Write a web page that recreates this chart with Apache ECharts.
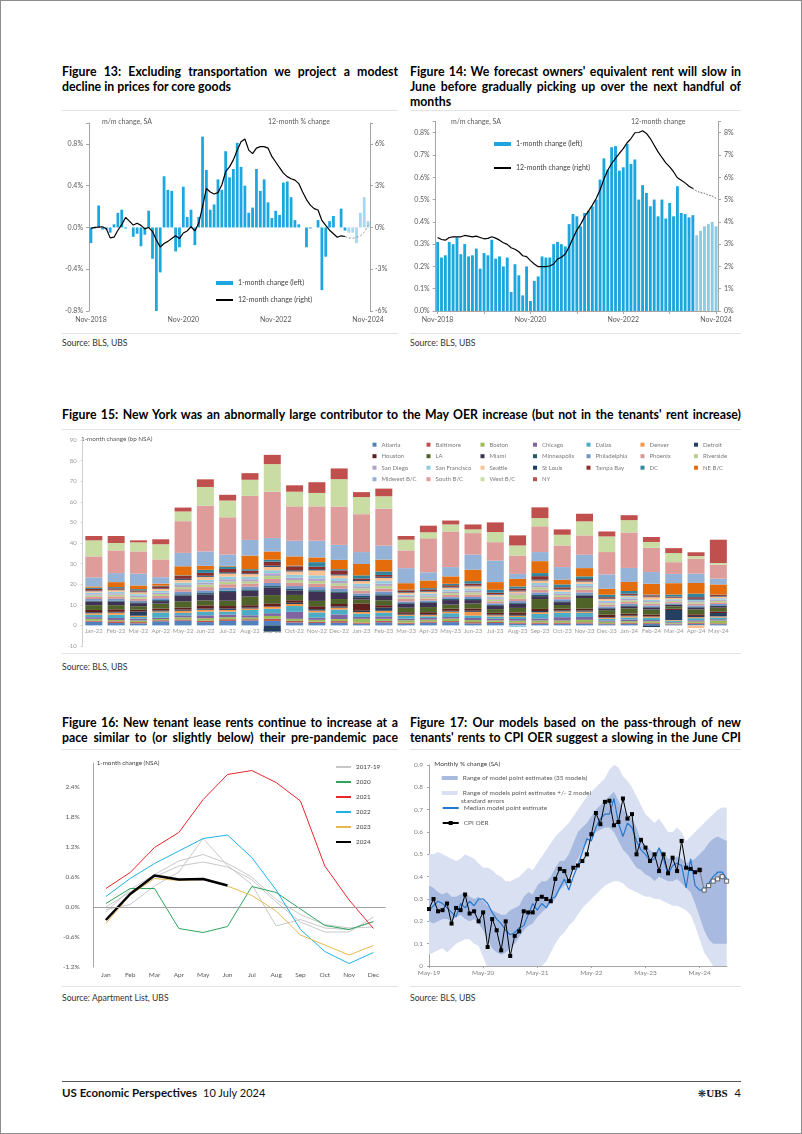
<!DOCTYPE html>
<html><head><meta charset="utf-8">
<script src="https://cdn.jsdelivr.net/npm/echarts@6/dist/echarts.min.js"></script>
<style>
body{margin:0;background:#fff;font-family:Lato,'Open Sans',sans-serif;}
#page{position:relative;width:802px;height:1134px;overflow:hidden;background:#fff;}
.ttl{position:absolute;font-weight:bold;font-size:12.3px;line-height:15px;color:#000;}
.j{text-align:justify;text-align-last:justify;}
.src{position:absolute;font-size:8.6px;line-height:11px;color:#333;}
.hl{position:absolute;height:0;border-top:1px solid #e4e4e4;}
.ch{position:absolute;}
#frame{position:absolute;left:0;top:0;width:800px;height:1132px;border:1px solid #8c8c8c;pointer-events:none;}
</style></head><body><div id="page">

<div class="ttl" style="left:62px;top:63.5px;width:336px;">
<div class="j">Figure 13: Excluding transportation we project a modest</div>
<div>decline in prices for core goods</div></div>
<div class="ttl" style="left:410px;top:63.5px;width:331px;">
<div class="j">Figure 14: We forecast owners' equivalent rent will slow in</div>
<div class="j">June before gradually picking up over the next handful of</div>
<div>months</div></div>
<div class="ttl" style="left:62px;top:406.5px;width:679px;">
<div class="j">Figure 15: New York was an abnormally large contributor to the May OER increase (but not in the tenants' rent increase)</div></div>
<div class="ttl" style="left:62px;top:714.5px;width:336px;">
<div class="j">Figure 16: New tenant lease rents continue to increase at a</div>
<div class="j">pace similar to (or slightly below) their pre-pandemic pace</div></div>
<div class="ttl" style="left:410px;top:714.5px;width:331px;">
<div class="j">Figure 17: Our models based on the pass-through of new</div>
<div class="j">tenants' rents to CPI OER suggest a slowing in the June CPI</div></div>

<div class="hl" style="left:62px;top:110px;width:336px;"></div>
<div class="hl" style="left:62px;top:333px;width:336px;"></div>
<div class="hl" style="left:410px;top:110px;width:331px;"></div>
<div class="hl" style="left:410px;top:333px;width:331px;"></div>
<div class="hl" style="left:62px;top:429px;width:679px;"></div>
<div class="hl" style="left:62px;top:653px;width:679px;"></div>
<div class="hl" style="left:62px;top:749px;width:336px;"></div>
<div class="hl" style="left:62px;top:986px;width:336px;"></div>
<div class="hl" style="left:410px;top:749px;width:331px;"></div>
<div class="hl" style="left:410px;top:986px;width:331px;"></div>

<div class="src" style="left:62px;top:337.5px;">Source: BLS, UBS</div>
<div class="src" style="left:410px;top:337.5px;">Source: BLS, UBS</div>
<div class="src" style="left:62px;top:661.5px;">Source: BLS, UBS</div>
<div class="src" style="left:62px;top:992.5px;">Source: Apartment List, UBS</div>
<div class="src" style="left:410px;top:992.5px;">Source: BLS, UBS</div>

<div class="ch" id="c13" style="left:60px;top:111px;width:340px;height:221px;"></div>
<div class="ch" id="c14" style="left:405px;top:111px;width:345px;height:221px;"></div>
<div class="ch" id="c15" style="left:60px;top:430px;width:700px;height:222px;"></div>
<div class="ch" id="c16" style="left:60px;top:751px;width:340px;height:234px;"></div>
<div class="ch" id="c17" style="left:405px;top:751px;width:340px;height:234px;"></div>

<div style="position:absolute;left:62px;top:1081px;width:679px;border-top:1px solid #555;"></div>
<div style="position:absolute;left:62px;top:1086px;font-size:11.5px;line-height:14px;color:#111;"><b>US Economic Perspectives</b><span style="margin-left:6px;font-size:11px;">10 July 2024</span></div>
<div style="position:absolute;right:61px;top:1086px;font-size:11px;line-height:14px;color:#111;"><span style="font-family:'DejaVu Sans';font-size:10px;">&#x274B;</span><span style="font-family:'Liberation Serif';font-weight:bold;">UBS</span><span style="margin-left:7px;">4</span></div>
<div id="frame"></div>
</div>
<script>
// ---------- Figure 13 data ----------
const f13Mm = [-0.15,-0.01,0.21,-0.02,-0.02,-0.05,0.03,0.14,0.17,-0.01,
0.00,-0.09,-0.06,-0.18,-0.07,0.16,-0.30,-0.80,-0.43,0.49,
0.36,0.35,-0.23,-0.19,0.39,0.10,0.17,-0.17,0.10,0.87,
0.55,0.17,0.22,0.46,0.36,0.73,0.48,0.56,0.81,0.58,
0.40,0.14,0.19,0.56,0.35,0.46,0.24,0.09,0.16,0.12,
0.43,0.44,0.29,0.07,0.03,0.00,-0.19,-0.01,0.00,0.07,
-0.60,-0.28,0.06,0.11,0.00,0.18,-0.03];
const f13MmProj = [-0.05,-0.05,-0.15,0.14,0.29,0.06];
const f13Yoy = [-0.07,0.0,0.02,0.05,-0.1,-0.75,-0.7,-0.2,0.2,0.72,
0.45,0.17,0.3,0.15,-0.1,0.0,-0.3,-0.9,-1.4,-1.15,
-1.0,-0.8,-0.6,-0.8,-0.4,-0.25,0.05,-0.25,0.3,1.5,
2.8,2.55,2.4,2.5,3.05,4.0,4.35,4.85,5.55,6.15,
6.35,5.55,5.3,5.7,5.8,5.8,5.7,5.1,4.7,4.3,
3.9,3.65,3.5,3.4,3.15,2.55,2.0,1.6,1.35,1.25,
0.5,0.15,-0.2,-0.45,-0.7,-0.6,-0.65];
const f13YoyProj = [-0.75,-0.78,-0.72,-0.6,-0.35,0.15];

// ---------- Figure 14 data ----------
const f14Mm = [0.31,0.24,0.25,0.31,0.30,0.33,0.255,0.30,0.245,0.25,
0.28,0.19,0.26,0.25,0.32,0.235,0.245,0.20,0.24,0.085,
0.21,0.16,0.07,0.20,0.045,0.135,0.155,0.245,0.24,0.24,
0.30,0.31,0.30,0.29,0.39,0.435,0.425,0.38,0.44,0.45,
0.47,0.50,0.59,0.685,0.635,0.735,0.74,0.63,0.645,0.75,
0.66,0.68,0.50,0.565,0.53,0.47,0.50,0.425,0.50,0.415,
0.485,0.425,0.56,0.44,0.435,0.42,0.43];
const f14MmProj = [0.34,0.36,0.38,0.39,0.40,0.38];
const f14Yoy = [3.3,3.21,3.18,3.3,3.33,3.33,3.33,3.39,3.36,3.33,
3.36,3.3,3.24,3.26,3.33,3.27,3.18,3.06,2.99,2.84,
2.77,2.66,2.48,2.44,2.26,2.11,1.99,1.99,1.99,2.02,
2.11,2.33,2.41,2.56,2.88,3.26,3.63,3.9,4.23,4.48,
4.75,5.05,5.43,5.92,6.32,6.62,6.85,7.07,7.29,7.55,
7.74,8.0,8.01,8.09,7.97,7.74,7.44,7.14,6.89,6.65,
6.47,6.25,5.98,5.87,5.75,5.6,5.5];
const f14YoyProj = [5.38,5.31,5.28,5.2,5.16,5.05];

// ---------- Figure 15 data (bp, NSA) ----------
const f15Months = ['Jan-22','Feb-22','Mar-22','Apr-22','May-22','Jun-22','Jul-22','Aug-22','Sep-22','Oct-22','Nov-22','Dec-22','Jan-23','Feb-23','Mar-23','Apr-23','May-23','Jun-23','Jul-23','Aug-23','Sep-23','Oct-23','Nov-23','Dec-23','Jan-24','Feb-24','Mar-24','Apr-24','May-24'];
const atlanta = [1.8,1.2,1.0,2.0,2.3,1.6,2.2,2.4,2.2,1.4,1.2,1.3,0.8,1.5,0.8,1.3,1.6,1.0,1.2,0.8,0.8,0.8,0.9,0.6,0.8,0.8,0.5,0.8,0.6];
const baltimore = [0.5,0.8,0.6,0.5,0.6,0.7,0.8,0.6,1.0,0.8,0.6,0.8,0.6,0.7,0.5,0.6,0.5,0.6,0.5,0.6,0.6,0.6,0.6,0.4,0.5,0.4,0.3,0.4,0.4];
const boston = [0.9,0.6,0.8,0.6,1.0,1.2,1.0,0.8,1.4,1.0,0.9,1.0,1.8,1.0,1.2,0.9,1.2,1.0,0.8,0.9,1.0,1.0,1.2,0.8,0.8,0.8,0.5,0.7,1.4];
const chicago = [0.8,1.0,0.9,0.7,1.0,1.4,1.3,1.1,1.3,3.4,1.0,2.2,0.9,1.2,0.8,0.8,0.8,1.0,0.8,0.8,1.0,1.6,1.4,0.6,0.8,0.6,0.4,0.6,0.6];
const dallas = [1.2,1.6,0.8,2.5,1.2,1.8,1.4,2.6,2.2,2.8,2.6,2.4,1.6,1.8,1.3,0.8,1.8,1.2,1.0,1.0,2.2,2.2,2.0,0.8,1.0,1.2,0.6,1.0,0.9];
const denver = [0.7,1.0,0.6,0.5,1.0,0.9,0.8,0.7,1.0,1.0,0.9,0.9,0.8,0.9,0.6,0.6,0.8,1.8,0.6,0.6,0.8,0.6,0.6,0.5,0.6,0.5,0.3,0.5,0.5];
const detroit = [0.5,0.4,2.0,0.4,0.6,0.6,0.7,0.6,-3.0,0.6,0.7,0.6,0.6,1.5,0.4,0.4,0.4,0.5,0.4,0.4,0.6,0.5,0.6,0.3,0.4,-0.8,4.9,0.6,1.6];
const houston = [1.1,1.2,0.9,1.0,1.0,1.5,1.2,1.0,1.6,1.2,1.4,1.2,3.6,1.2,0.8,1.0,1.0,1.1,0.8,1.2,1.0,0.8,0.8,1.2,0.8,1.0,0.6,0.8,0.8];
const la = [2.3,2.0,1.7,2.4,3.0,2.4,2.6,4.2,4.0,2.6,2.6,2.4,1.8,2.4,2.2,2.5,2.0,2.4,1.8,2.2,4.8,1.8,5.2,2.2,2.6,2.4,1.2,2.4,1.8];
const miami = [1.8,1.7,1.5,1.2,2.8,3.0,4.2,2.8,3.6,2.2,4.4,3.0,1.2,2.2,1.8,2.0,2.2,1.7,1.6,2.0,1.4,1.4,1.2,0.8,1.0,1.0,0.6,0.9,0.8];
const minneapolis = [0.4,0.5,0.4,0.5,0.6,0.6,0.6,0.7,0.8,0.7,0.8,0.7,0.6,0.7,0.4,0.4,0.5,0.5,0.4,0.4,0.6,0.4,0.5,0.3,0.4,0.3,0.3,0.3,0.3];
const philadelphia = [0.8,0.9,0.7,0.9,1.2,1.3,1.5,1.3,1.5,1.4,1.5,1.3,1.2,1.3,0.8,0.8,0.9,1.0,0.8,0.9,1.2,1.0,1.0,0.7,0.8,0.7,0.5,0.7,0.7];
const phoenix = [1.0,1.2,1.0,1.1,1.3,1.6,1.7,1.5,1.9,1.6,1.6,1.5,1.4,1.5,1.3,1.0,1.1,1.2,1.0,1.1,1.4,1.1,1.3,0.8,0.9,0.8,0.6,0.8,0.8];
const riverside = [0.7,0.8,0.8,0.9,1.0,1.2,1.3,1.1,1.5,1.3,1.4,1.2,1.1,1.3,0.7,0.8,0.9,1.0,0.8,2.0,1.1,0.9,1.0,0.7,0.8,0.7,0.5,0.7,0.7];
const sanDiego = [0.6,0.7,0.7,0.7,1.0,1.0,1.1,1.0,1.3,1.2,1.2,1.1,1.0,1.1,0.7,0.7,0.8,0.9,0.7,0.7,1.0,0.8,0.9,0.6,0.7,0.6,0.4,0.6,0.6];
const sanFrancisco = [0.8,0.7,0.8,0.9,1.2,1.3,1.3,1.2,1.5,1.4,1.5,1.3,1.2,1.4,0.6,0.9,0.9,1.0,0.8,-0.8,1.1,0.9,1.0,0.7,0.8,0.7,0.5,0.7,0.7];
const seattle = [0.7,0.8,0.9,0.9,1.3,1.5,1.5,1.3,1.6,1.6,2.4,1.4,1.3,1.4,1.0,0.9,1.0,1.1,0.9,0.9,1.2,1.0,1.1,0.8,0.8,1.2,0.6,-1.3,0.8];
const stLouis = [0.3,0.3,0.3,0.3,0.5,0.5,0.6,0.4,0.6,0.5,0.6,0.5,0.5,0.5,0.3,0.3,0.3,0.4,0.3,0.4,0.5,0.3,0.4,0.3,0.3,0.3,0.2,0.4,0.3];
const tampaBay = [0.8,0.6,0.6,1.0,1.4,1.4,1.6,1.2,1.9,2.0,1.2,1.9,0.8,0.9,0.8,0.8,0.8,0.9,0.7,1.0,1.6,0.8,0.8,0.6,0.6,0.6,0.5,0.8,0.6];
const dc = [0.6,0.6,0.6,0.3,0.3,1.5,1.2,0.8,1.0,0.3,2.2,0.6,1.5,1.7,0.3,0.6,0.7,1.2,1.4,1.0,1.5,1.4,1.3,1.2,1.3,0.4,1.0,1.7,0.1];
const neBC = [0.6,2.4,1.8,1.0,4.4,1.9,0.3,6.6,4.0,4.5,2.3,4.5,5.5,5.7,3.2,3.7,3.6,5.5,3.7,3.7,5.8,2.3,4.0,2.9,4.4,5.2,5.5,5.2,4.9];
const midwestBC = [4.4,4.4,5.7,3.1,6.5,7.0,5.5,7.6,6.5,7.6,8.1,7.3,5.8,6.8,7.3,4.0,4.5,7.4,10.5,2.4,4.4,6.1,6.5,7.0,6.8,5.7,4.5,4.5,2.8];
const southBC = [10.2,11.0,10.8,8.6,15.4,22.2,18.1,21.4,22.5,16.7,16.7,18.6,18.4,18.0,8.6,16.5,17.3,10.4,8.9,8.9,12.5,10.5,9.4,10.8,17.2,11.8,5.7,7.3,6.8];
const westBC = [7.8,3.6,4.4,7.4,4.7,9.1,8.1,7.8,13.4,7.1,6.5,13.3,8.3,6.0,5.2,2.9,3.4,1.8,4.9,4.9,4.0,5.2,6.8,7.6,6.0,2.8,4.4,1.3,0.8];
const ny = [2.1,3.4,1.0,2.4,1.9,3.7,2.8,3.2,4.5,3.1,5.2,5.2,2.4,3.7,1.8,3.2,1.9,2.4,4.7,4.9,5.2,2.6,3.7,2.4,2.4,2.4,2.4,1.8,11.3];
const f15Names = ['Atlanta','Baltimore','Boston','Chicago','Dallas','Denver','Detroit','Houston','LA','Miami','Minneapolis','Philadelphia','Phoenix','Riverside','San Diego','San Francisco','Seattle','St Louis','Tampa Bay','DC','NE B/C','Midwest B/C','South B/C','West B/C','NY'];
const f15Series = [atlanta,baltimore,boston,chicago,dallas,denver,detroit,houston,la,miami,minneapolis,philadelphia,phoenix,riverside,sanDiego,sanFrancisco,seattle,stLouis,tampaBay,dc,neBC,midwestBC,southBC,westBC,ny];
const f15Colors = ['#4F81BD','#C0504D','#9BBB59','#8064A2','#4BACC6','#F79646','#243F60','#5E1F1D','#4F6228','#3F3151','#215968','#7394C7','#D99694','#B9CF8E','#B3A2C7','#93CDDD','#FAC090','#1E3F66','#8B2F2D','#31859C','#E46C0A','#95B3D7','#DE9C9B','#C8DCA4','#C0504D'];

// ---------- Figure 16 data (1-month change, NSA, %) ----------
const f16Months = ['Jan','Feb','Mar','Apr','May','Jun','Jul','Aug','Sep','Oct','Nov','Dec'];
const y2017 = [-0.10,0.35,0.65,0.92,1.05,0.87,0.60,0.15,-0.15,-0.35,-0.42,-0.40];
const y2018 = [0.00,0.30,0.60,0.82,0.90,0.80,0.55,0.10,-0.30,-0.50,-0.50,-0.20];
const y2019 = [-0.05,0.05,0.42,0.70,1.37,0.83,0.45,-0.38,-0.25,-0.42,-0.45,-0.30];
const y2020 = [0.07,0.37,0.37,-0.43,-0.51,-0.39,0.41,0.29,-0.04,-0.37,-0.45,-0.29];
const y2021 = [0.37,0.69,1.19,1.49,2.15,2.65,2.73,2.49,2.12,0.82,0.14,-0.43];
const y2022 = [0.21,0.57,0.87,1.12,1.37,1.44,0.99,0.34,-0.45,-0.89,-1.13,-0.91];
const y2023 = [-0.33,0.24,0.57,0.53,0.55,0.42,0.23,-0.08,-0.56,-0.76,-0.96,-0.77];
const y2024 = [-0.26,0.26,0.63,0.55,0.56,0.43];

// ---------- Figure 17 data (monthly % change, SA) ----------
const f17Oer = [0.255,0.30,0.245,0.25,0.28,0.19,0.26,0.25,0.32,0.235,
0.245,0.20,0.24,0.085,0.21,0.16,0.07,0.20,0.045,0.135,
0.155,0.245,0.24,0.24,0.30,0.31,0.30,0.29,0.39,0.435,
0.425,0.38,0.44,0.45,0.47,0.50,0.59,0.685,0.635,0.735,
0.74,0.63,0.645,0.75,0.66,0.68,0.50,0.565,0.53,0.47,
0.50,0.425,0.50,0.415,0.485,0.425,0.56,0.44,0.435,0.42,0.43];
const f17OerProj = [0.34,0.36,0.38,0.39,0.40,0.38];
const f17Median = [0.25,0.27,0.29,0.28,0.26,0.24,0.22,0.28,0.26,0.29,
0.27,0.30,0.30,0.28,0.24,0.21,0.19,0.16,0.14,0.15,
0.17,0.18,0.23,0.28,0.25,0.28,0.26,0.30,0.31,0.35,
0.39,0.34,0.40,0.45,0.51,0.57,0.56,0.62,0.66,0.68,
0.68,0.75,0.64,0.58,0.64,0.62,0.56,0.52,0.50,0.47,
0.48,0.53,0.48,0.41,0.45,0.46,0.45,0.35,0.48,0.36,
0.34,0.34,0.37,0.40,0.42,0.42,0.39];
const f17SeUpper = [0.50,0.50,0.51,0.50,0.49,0.48,0.47,0.48,0.50,0.49,
0.48,0.46,0.44,0.44,0.43,0.41,0.40,0.38,0.38,0.39,
0.40,0.42,0.44,0.43,0.46,0.49,0.52,0.55,0.58,0.60,
0.62,0.64,0.67,0.70,0.73,0.76,0.78,0.80,0.82,0.84,
0.88,0.90,0.89,0.85,0.83,0.80,0.76,0.72,0.68,0.66,
0.64,0.66,0.63,0.60,0.60,0.62,0.60,0.56,0.58,0.60,
0.62,0.64,0.66,0.68,0.70,0.71,0.71];
const f17SeLower = [0.05,0.06,0.07,0.08,0.06,0.08,0.10,0.11,0.12,0.12,
0.10,0.09,0.04,-0.01,-0.03,-0.04,-0.05,-0.06,-0.05,-0.04,
-0.03,-0.02,-0.02,-0.01,-0.01,0.00,0.02,0.06,0.10,0.13,
0.15,0.18,0.20,0.23,0.26,0.28,0.30,0.32,0.34,0.36,
0.37,0.38,0.38,0.37,0.35,0.34,0.33,0.32,0.31,0.31,
0.30,0.30,0.29,0.28,0.27,0.27,0.26,0.25,0.23,0.18,
0.12,0.06,0.03,0.00,-0.03,-0.05,-0.06];
const f17RangeUpper = [0.36,0.35,0.33,0.32,0.33,0.31,0.31,0.32,0.33,0.31,
0.30,0.31,0.29,0.27,0.25,0.24,0.23,0.23,0.25,0.26,
0.27,0.31,0.33,0.32,0.36,0.38,0.38,0.40,0.44,0.47,
0.47,0.50,0.55,0.60,0.62,0.64,0.67,0.70,0.72,0.74,
0.76,0.78,0.74,0.70,0.68,0.66,0.62,0.56,0.54,0.52,
0.50,0.53,0.51,0.48,0.48,0.49,0.48,0.46,0.47,0.48,
0.50,0.52,0.55,0.57,0.58,0.57,0.56];
const f17RangeLower = [0.20,0.19,0.20,0.21,0.21,0.20,0.22,0.23,0.21,0.20,
0.21,0.19,0.16,0.12,0.08,0.06,0.05,0.06,0.08,0.10,
0.13,0.16,0.18,0.19,0.22,0.24,0.26,0.28,0.30,0.34,
0.36,0.40,0.44,0.48,0.52,0.55,0.58,0.60,0.61,0.62,
0.62,0.60,0.56,0.52,0.50,0.47,0.44,0.43,0.41,0.40,
0.38,0.40,0.39,0.38,0.38,0.39,0.37,0.35,0.33,0.28,
0.22,0.16,0.12,0.10,0.10,0.10,0.10];

// ---------- helpers ----------
const MON = ['Jan','Feb','Mar','Apr','May','Jun','Jul','Aug','Sep','Oct','Nov','Dec'];
function monthSeq(startM, startY, n, twoDigit){
  const out=[]; let m=startM, y=startY;
  for(let i=0;i<n;i++){ out.push(MON[m]+'-'+(twoDigit?String(y).slice(2):y)); m++; if(m>11){m=0;y++;} }
  return out;
}
const months73 = monthSeq(10,2018,73,false);   // Nov-2018 .. Nov-2024
const months67 = monthSeq(4,2019,67,true);     // May-19 .. Nov-24
function padEnd(arr,n){ const a=arr.slice(); while(a.length<n) a.push(null); return a; }
function projSeries(lastActual, actualLen, proj){ const a=new Array(actualLen-1).fill(null); a.push(lastActual); return a.concat(proj); }
function projBars(actualLen, proj){ return new Array(actualLen).fill(null).concat(proj); }
const noDot = {opacity:0};   // hide the legend's marker, keep its line

const FONT='Lato';
const LBL='#595959';
const AX='#A6A6A6';

// ---------- Figure 13 ----------
const c13 = echarts.init(document.getElementById('c13'));
c13.setOption({
  animation:false, textStyle:{fontFamily:FONT},
  grid:{left:29,right:30,top:12,bottom:21},
  xAxis:{type:'category',data:months73,boundaryGap:true,
    axisLine:{show:false},axisTick:{show:false},
    axisLabel:{interval:23,fontSize:7,color:LBL,margin:5}},
  yAxis:[
    {type:'value',min:-0.8,max:1.0,interval:0.4,splitLine:{show:false},
     axisLine:{show:true,lineStyle:{color:AX}},axisTick:{show:true,length:3,lineStyle:{color:AX}},
     axisLabel:{fontSize:7,color:LBL,margin:6,formatter:v=>v>0.85?'':v.toFixed(1)+'%'}},
    {type:'value',min:-6,max:7.5,interval:3,position:'right',splitLine:{show:false},
     axisLine:{show:true,lineStyle:{color:AX}},axisTick:{show:true,length:3,lineStyle:{color:AX}},
     axisLabel:{fontSize:7,color:LBL,margin:5,formatter:v=>v>6.5?'':v+'%'}}
  ],
  legend:{orient:'vertical',left:155,top:167.5,padding:0,itemGap:8,itemWidth:17,itemHeight:4,
    textStyle:{fontSize:7,lineHeight:9,color:'#404040'},selectedMode:false,
    data:[{name:'1-month change (left)',icon:'rect'},{name:'12-month change (right)',itemStyle:noDot}]},
  graphic:[
    {type:'text',left:42,top:7,style:{text:'m/m change, SA',fontSize:7,fill:LBL,fontFamily:FONT}},
    {type:'text',left:208,top:7,style:{text:'12-month % change',fontSize:7,fill:LBL,fontFamily:FONT}}
  ],
  series:[
    {name:'1-month change (left)',type:'bar',data:padEnd(f13Mm,73),barWidth:'72%',barGap:'-100%',itemStyle:{color:'#1CA7E0'}},
    {name:'projection',type:'bar',data:projBars(f13Mm.length,f13MmProj),barWidth:'72%',barGap:'-100%',itemStyle:{color:'#A5D8EE'}},
    {name:'12-month change (right)',type:'line',yAxisIndex:1,data:padEnd(f13Yoy,73),symbol:'none',lineStyle:{color:'#000',width:1.2},itemStyle:{color:'#000'}},
    {name:'proj12',type:'line',yAxisIndex:1,data:projSeries(f13Yoy[f13Yoy.length-1],f13Yoy.length,f13YoyProj),symbol:'none',lineStyle:{color:'#8a8a8a',width:1,type:[2,2]}}
  ]
});

// ---------- Figure 14 ----------
const c14 = echarts.init(document.getElementById('c14'));
c14.setOption({
  animation:false, textStyle:{fontFamily:FONT},
  grid:{left:30.7,right:32,top:10.6,bottom:21},
  xAxis:{type:'category',data:months73,boundaryGap:true,
    axisLine:{show:true,lineStyle:{color:AX}},
    axisTick:{show:true,interval:11,alignWithLabel:true,length:3,lineStyle:{color:AX}},
    axisLabel:{interval:23,fontSize:7,color:LBL,margin:5}},
  yAxis:[
    {type:'value',min:0,max:0.85,interval:0.1,splitLine:{show:false},
     axisLine:{show:true,lineStyle:{color:AX}},axisTick:{show:true,length:3,lineStyle:{color:AX}},
     axisLabel:{fontSize:7,color:LBL,margin:6,formatter:v=>v>0.82?'':v.toFixed(1)+'%'}},
    {type:'value',min:0,max:8.5,interval:1,position:'right',splitLine:{show:false},
     axisLine:{show:true,lineStyle:{color:AX}},axisTick:{show:true,length:3,lineStyle:{color:AX}},
     axisLabel:{fontSize:7,color:LBL,margin:6,formatter:v=>v>8.2?'':v+'%'}}
  ],
  legend:{orient:'vertical',left:88,top:28.5,padding:0,itemGap:15,itemWidth:17,itemHeight:4,
    textStyle:{fontSize:7,lineHeight:9,color:'#404040'},selectedMode:false,
    data:[{name:'1-month change (left)',icon:'rect'},{name:'12-month change (right)',itemStyle:noDot}]},
  graphic:[
    {type:'text',left:46,top:7,style:{text:'m/m change, SA',fontSize:7,fill:LBL,fontFamily:FONT}},
    {type:'text',left:226,top:7,style:{text:'12-month change',fontSize:7,fill:LBL,fontFamily:FONT}}
  ],
  series:[
    {name:'1-month change (left)',type:'bar',data:padEnd(f14Mm,73),barWidth:'74%',barGap:'-100%',itemStyle:{color:'#1BA6DE'}},
    {name:'projection',type:'bar',data:projBars(f14Mm.length,f14MmProj),barWidth:'74%',barGap:'-100%',itemStyle:{color:'#8CCBE4'}},
    {name:'12-month change (right)',type:'line',yAxisIndex:1,data:padEnd(f14Yoy,73),symbol:'none',lineStyle:{color:'#000',width:1.2},itemStyle:{color:'#000'}},
    {name:'proj12',type:'line',yAxisIndex:1,data:projSeries(f14Yoy[f14Yoy.length-1],f14Yoy.length,f14YoyProj),symbol:'none',lineStyle:{color:'#333',width:0.8,type:[1.5,1.5]}}
  ]
});

// ---------- Figure 15 ----------
const c15 = echarts.init(document.getElementById('c15'));
const f15Cols = [
  ['Atlanta','Houston','San Diego','Midwest B/C'],
  ['Baltimore','LA','San Francisco','South B/C'],
  ['Boston','Miami','Seattle','West B/C'],
  ['Chicago','Minneapolis','St Louis','NY'],
  ['Dallas','Philadelphia','Tampa Bay'],
  ['Denver','Phoenix','DC'],
  ['Detroit','Riverside','NE B/C']
];
const f15ColLeft = [312.5,366.5,420.5,473,526.5,580.5,634];
c15.setOption({
  animation:false, textStyle:{fontFamily:FONT},
  grid:{left:22.7,right:30.5,top:10,bottom:6},
  xAxis:{type:'category',data:f15Months,position:'bottom',offset:-20.6,
    axisLine:{show:false,onZero:false},axisTick:{show:false},
    axisLabel:{interval:0,fontSize:6,color:'#9a9a9a',margin:3}},
  yAxis:{type:'value',min:-10,max:90,interval:10,splitLine:{show:false},
    axisLine:{show:true,lineStyle:{color:'#D0D0D0'}},axisTick:{show:true,length:2,lineStyle:{color:'#D0D0D0'}},
    axisLabel:{fontSize:6,color:'#9a9a9a',margin:6}},
  legend:f15Cols.map((col,i)=>({orient:'vertical',left:f15ColLeft[i],top:10.7,padding:0,itemGap:3.5,itemWidth:4,itemHeight:4,
    icon:'rect',selectedMode:false,textStyle:{fontSize:6,lineHeight:8,color:'#7a7a7a'},data:col})),
  graphic:[{type:'text',left:21,top:6,style:{text:'1-month change (bp NSA)',fontSize:6.3,fill:'#555',fontFamily:FONT}}],
  series:f15Names.map((n,i)=>({name:n,type:'bar',stack:'total',data:f15Series[i],barWidth:17,
    itemStyle:{color:f15Colors[i]}}))
});

// ---------- Figure 16 ----------
const c16 = echarts.init(document.getElementById('c16'));
const greyL = {color:'#C8C8C8',width:1};
c16.setOption({
  animation:false, textStyle:{fontFamily:FONT},
  grid:{left:30,right:14.4,top:12,bottom:18},
  xAxis:{type:'category',data:f16Months,boundaryGap:true,
    axisLine:{show:false,onZero:false},axisTick:{show:false},
    axisLabel:{fontSize:6.5,color:LBL,margin:4.5}},
  yAxis:{type:'value',min:-1.2,max:2.88,interval:0.6,splitLine:{show:false},
    axisLine:{show:true,lineStyle:{color:AX}},axisTick:{show:false},
    axisLabel:{fontSize:6.5,color:LBL,margin:14,formatter:v=>v>2.5?'':v.toFixed(1)+'%'}},
  legend:{orient:'vertical',left:275,top:12,padding:0,itemGap:7,itemWidth:15,itemHeight:8,selectedMode:false,
    textStyle:{fontSize:6.3,lineHeight:8,color:'#404040'},
    data:['2017-19','2020','2021','2022','2023','2024'].map(n=>({name:n,itemStyle:noDot}))},
  graphic:[{type:'text',left:36.7,top:9,style:{text:'1-month change (NSA)',fontSize:6.3,fill:'#404040',fontFamily:FONT}}],
  series:[
    {name:'2017-19',type:'line',data:y2017,symbol:'none',lineStyle:greyL,itemStyle:{color:'#C8C8C8'},
     markLine:{silent:true,symbol:'none',label:{show:false},lineStyle:{color:'#A0A0A0',width:1,type:'solid'},data:[{yAxis:0}]}},
    {name:'2017-19',type:'line',data:y2018,symbol:'none',lineStyle:greyL,itemStyle:{color:'#C8C8C8'}},
    {name:'2017-19',type:'line',data:y2019,symbol:'none',lineStyle:greyL,itemStyle:{color:'#C8C8C8'}},
    {name:'2020',type:'line',data:y2020,symbol:'none',lineStyle:{color:'#2EA55B',width:1},itemStyle:{color:'#2EA55B'}},
    {name:'2021',type:'line',data:y2021,symbol:'none',lineStyle:{color:'#E8262C',width:1},itemStyle:{color:'#E8262C'}},
    {name:'2022',type:'line',data:y2022,symbol:'none',lineStyle:{color:'#1EB1E6',width:1},itemStyle:{color:'#1EB1E6'}},
    {name:'2023',type:'line',data:y2023,symbol:'none',lineStyle:{color:'#E6B94E',width:1},itemStyle:{color:'#E6B94E'}},
    {name:'2024',type:'line',data:y2024,symbol:'none',lineStyle:{color:'#000',width:2.5},itemStyle:{color:'#000'}}
  ]
});

// ---------- Figure 17 ----------
const c17 = echarts.init(document.getElementById('c17'));
const seDiff = f17SeUpper.map((v,i)=>+(v-f17SeLower[i]).toFixed(3));
const rgDiff = f17RangeUpper.map((v,i)=>+(v-f17RangeLower[i]).toFixed(3));
const LIGHT='#D8E0F1', DARK='#A9BAE0';
const leg17 = (top,name,extra)=>Object.assign({orient:'vertical',left:36.7,top:top,padding:0,itemWidth:16,itemHeight:4,selectedMode:false,
  textStyle:{fontSize:6.5,lineHeight:8,color:'#595959'},data:[name]},extra||{});
c17.setOption({
  animation:false, textStyle:{fontFamily:FONT},
  grid:{left:24,right:18.3,top:14,bottom:19},
  xAxis:{type:'category',data:months67,boundaryGap:false,
    axisLine:{show:true,lineStyle:{color:AX}},axisTick:{show:true,interval:11,length:2,lineStyle:{color:AX}},
    axisLabel:{interval:11,fontSize:6.5,color:'#7F7F7F',margin:3.5}},
  yAxis:{type:'value',min:0,max:0.9,interval:0.1,splitLine:{show:false},
    axisLine:{show:true,lineStyle:{color:AX}},axisTick:{show:true,length:2,lineStyle:{color:AX}},
    axisLabel:{fontSize:6.5,color:'#7F7F7F',margin:6,formatter:v=>v===0?'0':v.toFixed(1)}},
  legend:[
    leg17(23,{name:'Range of model point estimates (35 models)',icon:'rect',itemStyle:{color:DARK}}),
    leg17(38,{name:'Range of models point estimates +/- 2 model',icon:'rect',itemStyle:{color:LIGHT}}),
    leg17(53,{name:'Median model point estimate',itemStyle:noDot}),
    leg17(68,'CPI OER',{itemHeight:5})
  ],
  graphic:[
    {type:'text',left:29.3,top:9,style:{text:'Monthly % change (SA)',fontSize:6.5,fill:'#404040',fontFamily:FONT}},
    {type:'text',left:56,top:46,style:{text:'standard errors',fontSize:6.5,fill:'#595959',fontFamily:FONT}}
  ],
  series:[
    {name:'seLow',type:'line',stack:'se',stackStrategy:'all',data:f17SeLower,symbol:'none',lineStyle:{width:0,opacity:0},silent:true},
    {name:'Range of models point estimates +/- 2 model',type:'line',stack:'se',stackStrategy:'all',data:seDiff,symbol:'none',
     lineStyle:{width:0,opacity:0},areaStyle:{color:LIGHT,opacity:1},itemStyle:{color:LIGHT},silent:true},
    {name:'rgLow',type:'line',stack:'rg',stackStrategy:'all',data:f17RangeLower,symbol:'none',lineStyle:{width:0,opacity:0},silent:true},
    {name:'Range of model point estimates (35 models)',type:'line',stack:'rg',stackStrategy:'all',data:rgDiff,symbol:'none',
     lineStyle:{width:0,opacity:0},areaStyle:{color:DARK,opacity:1},itemStyle:{color:DARK},silent:true},
    {name:'Median model point estimate',type:'line',data:f17Median,symbol:'none',lineStyle:{color:'#2379CF',width:1.2},itemStyle:{color:'#2379CF'}},
    {name:'OER proj',type:'line',data:projSeries(f17Oer[f17Oer.length-1],f17Oer.length,f17OerProj),symbol:'rect',symbolSize:4,showAllSymbol:true,
     lineStyle:{color:'#6d6d6d',width:0.8},itemStyle:{color:'#fff',borderColor:'#444',borderWidth:0.8}},
    {name:'CPI OER',type:'line',data:padEnd(f17Oer,67),symbol:'rect',symbolSize:4,showAllSymbol:true,
     lineStyle:{color:'#000',width:1},itemStyle:{color:'#000'}}
  ]
});
</script></body></html>
